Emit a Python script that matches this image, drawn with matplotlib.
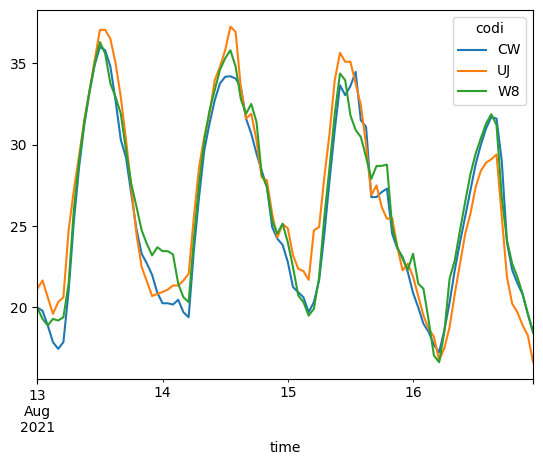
"""Hourly temperature per station, 13-16 Aug 2021"""
import matplotlib
matplotlib.use("Agg")
import matplotlib.pyplot as plt
import pandas as pd

start = "2021-08-13 00:00"
n_hours = 96
stations = ["CW", "UJ", "W8"]

cw = [20.0, 19.8, 18.9, 17.87, 17.46, 17.87, 21.0, 25.3, 28.6, 31.2, 33.2, 34.9,
      36.0, 35.8, 34.8, 32.7, 30.3, 29.2, 27.0, 24.8, 23.3, 22.7, 22.0, 20.9,
      20.26, 20.26, 20.18, 20.47, 19.71, 19.4, 23.5, 26.8, 29.66, 31.3, 32.73, 33.76,
      34.17, 34.2, 34.06, 33.55, 31.6, 30.68, 29.45, 28.4, 27.4, 24.94, 24.22, 23.85,
      22.8, 21.25, 20.94, 20.63, 19.71, 20.33, 21.66, 24.5, 27.8, 30.9, 33.65, 33.04,
      33.6, 34.47, 31.5, 31.09, 26.78, 26.78, 27.09, 27.3, 24.53, 23.6, 23.1, 22.17,
      20.9, 20.0, 19.0, 18.5, 17.7, 17.25, 18.6, 20.3, 22.3, 24.0, 25.6, 27.2,
      28.8, 30.0, 31.0, 31.7, 31.6, 29.0, 24.0, 22.3, 21.5, 20.8, 19.6, 18.5]
uj = [21.15, 21.66, 20.63, 19.61, 20.33, 20.63, 24.74, 27.2, 29.3, 31.5, 33.3, 35.2,
      37.05, 37.05, 36.5, 35.0, 32.93, 30.3, 27.4, 24.5, 22.48, 21.6, 20.7, 20.84,
      20.95, 21.1, 21.35, 21.35, 21.66, 22.07, 25.55, 28.63, 30.5, 31.9, 33.96, 34.78,
      35.8, 37.24, 36.93, 33.5, 31.6, 31.9, 30.27, 28.0, 27.8, 25.76, 24.3, 25.12,
      24.87, 23.2, 22.38, 22.23, 21.7, 24.74, 24.94, 28.0, 30.68, 33.96, 35.64, 35.09,
      35.09, 33.76, 32.42, 30.0, 26.89, 27.5, 26.17, 25.45, 25.5, 23.7, 22.28, 22.69,
      21.9, 20.7, 19.5, 18.7, 18.2, 16.75, 17.5, 18.79, 20.84, 22.69, 24.53, 25.76,
      27.4, 28.4, 28.9, 29.1, 29.4, 25.6, 21.86, 20.23, 19.71, 18.9, 18.28, 16.65]
w8 = [20.0, 19.3, 18.9, 19.3, 19.2, 19.4, 21.46, 26.0, 29.0, 31.4, 33.3, 35.0,
      36.3, 35.6, 33.76, 32.93, 31.9, 29.66, 27.6, 26.2, 24.74, 23.9, 23.2, 23.7,
      23.46, 23.46, 23.26, 21.46, 20.63, 20.33, 24.2, 27.6, 30.27, 32.1, 33.35, 34.6,
      35.3, 35.8, 34.8, 32.8, 31.9, 32.5, 31.4, 28.2, 27.4, 25.35, 24.53, 25.15,
      24.0, 22.48, 20.74, 20.33, 19.5, 19.92, 21.86, 25.55, 28.6, 31.9, 34.37, 33.96,
      31.8, 30.9, 30.47, 29.24, 27.9, 28.69, 28.7, 28.77, 24.94, 23.7, 23.0, 22.32,
      23.3, 21.46, 21.15, 19.2, 17.05, 16.64, 18.5, 21.76, 22.9, 24.74, 26.5, 28.2,
      29.45, 30.4, 31.3, 31.87, 31.2, 26.8, 24.12, 22.69, 21.86, 20.84, 19.61, 18.45]

times = pd.date_range(start, periods=n_hours, freq="h", name="time")
df = pd.DataFrame({"CW": cw, "UJ": uj, "W8": w8}, index=times)
df.columns.name = "codi"

fig = plt.figure(figsize=(5.43, 4.65), dpi=100)
ax = fig.add_axes([0.0687, 0.185, 0.913, 0.7935])
df[stations].plot(ax=ax)
ax.legend(title="codi", loc="upper right")

fig.savefig("out.png")
